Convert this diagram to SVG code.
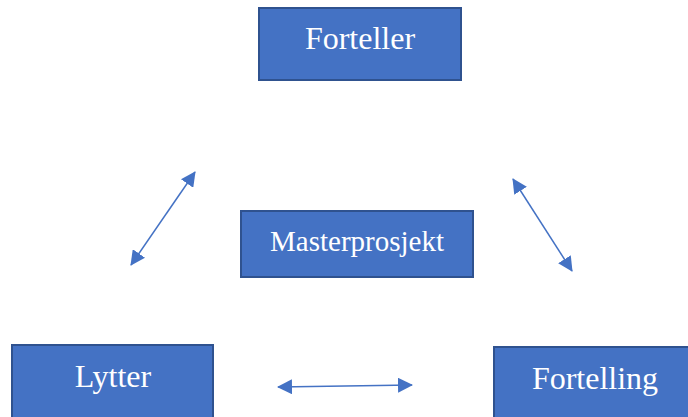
<svg xmlns="http://www.w3.org/2000/svg" width="688" height="417" viewBox="0 0 688 417">
<style>
.box{fill:#4472C4;stroke:#2F528F;stroke-width:2}
.lbl{fill:#FFFFFF;font-family:"Liberation Serif","Times New Roman",serif;text-anchor:middle}
.conn{stroke:#4472C4;stroke-width:1.5;fill:none;marker-start:url(#ah);marker-end:url(#ah)}
</style>
<defs>
<marker id="ah" viewBox="0 0 15 15" refX="14" refY="7.5" markerWidth="15" markerHeight="15" markerUnits="userSpaceOnUse" orient="auto-start-reverse">
<path d="M0,0 L15,7.5 L0,15 Z" fill="#4472C4"/>
</marker>
</defs>
<rect width="688" height="417" fill="#FFFFFF"/>
<g id="connectors">
<path class="conn" d="M195,172 L131,265"/>
<path class="conn" d="M513,179 L572,271"/>
<path class="conn" d="M278,387 L412,385"/>
</g>
<g id="forteller">
<rect class="box" x="259" y="8" width="202" height="72"/>
<text class="lbl" x="360" y="49" font-size="32">Forteller</text>
</g>
<g id="masterprosjekt">
<rect class="box" x="241" y="211" width="232" height="66"/>
<text class="lbl" x="357" y="251" font-size="29">Masterprosjekt</text>
</g>
<g id="lytter">
<rect class="box" x="12" y="345" width="201" height="80"/>
<text class="lbl" x="113" y="387" font-size="32">Lytter</text>
</g>
<g id="fortelling">
<rect class="box" x="494" y="347" width="200" height="80"/>
<text class="lbl" x="595" y="389" font-size="32">Fortelling</text>
</g>
</svg>
